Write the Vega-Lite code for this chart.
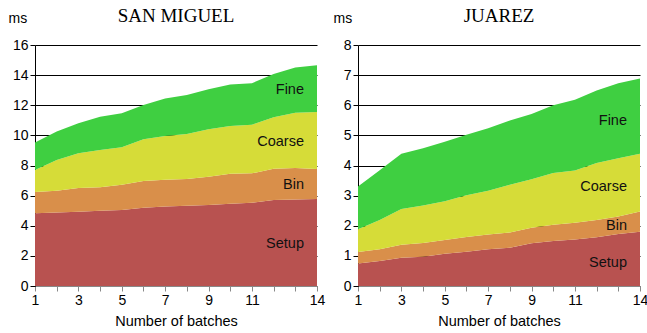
{
  "$schema": "https://vega.github.io/schema/vega-lite/v6.json",
  "padding": {"left": 8, "top": 7, "right": 0, "bottom": 0},
  "background": "white",
  "bounds": "flush",
  "spacing": 41,
  "config": {
    "view": {"stroke": null},
    "font": "Liberation Sans",
    "title": {"font": "Liberation Serif", "fontSize": 19, "fontWeight": "normal", "color": "#000", "baseline": "alphabetic", "offset": -15, "frame": "group"},
    "axis": {"labelFont": "Liberation Sans", "titleFont": "Liberation Sans", "labelFontSize": 14, "titleFontSize": 14, "titleFontWeight": "normal", "labelColor": "#000", "titleColor": "#000", "labelOverlap": false}
  },
  "datasets": {
    "times": [
      {"city": "San Miguel", "batch": 1, "stage": "Setup", "k": 1, "ms": 4.83},
      {"city": "San Miguel", "batch": 1, "stage": "Bin", "k": 2, "ms": 1.41},
      {"city": "San Miguel", "batch": 1, "stage": "Coarse", "k": 3, "ms": 1.46},
      {"city": "San Miguel", "batch": 1, "stage": "Fine", "k": 4, "ms": 1.82},
      {"city": "San Miguel", "batch": 2, "stage": "Setup", "k": 1, "ms": 4.88},
      {"city": "San Miguel", "batch": 2, "stage": "Bin", "k": 2, "ms": 1.45},
      {"city": "San Miguel", "batch": 2, "stage": "Coarse", "k": 3, "ms": 2.04},
      {"city": "San Miguel", "batch": 2, "stage": "Fine", "k": 4, "ms": 1.88},
      {"city": "San Miguel", "batch": 3, "stage": "Setup", "k": 1, "ms": 4.93},
      {"city": "San Miguel", "batch": 3, "stage": "Bin", "k": 2, "ms": 1.57},
      {"city": "San Miguel", "batch": 3, "stage": "Coarse", "k": 3, "ms": 2.31},
      {"city": "San Miguel", "batch": 3, "stage": "Fine", "k": 4, "ms": 1.99},
      {"city": "San Miguel", "batch": 4, "stage": "Setup", "k": 1, "ms": 4.99},
      {"city": "San Miguel", "batch": 4, "stage": "Bin", "k": 2, "ms": 1.56},
      {"city": "San Miguel", "batch": 4, "stage": "Coarse", "k": 3, "ms": 2.48},
      {"city": "San Miguel", "batch": 4, "stage": "Fine", "k": 4, "ms": 2.21},
      {"city": "San Miguel", "batch": 5, "stage": "Setup", "k": 1, "ms": 5.05},
      {"city": "San Miguel", "batch": 5, "stage": "Bin", "k": 2, "ms": 1.68},
      {"city": "San Miguel", "batch": 5, "stage": "Coarse", "k": 3, "ms": 2.48},
      {"city": "San Miguel", "batch": 5, "stage": "Fine", "k": 4, "ms": 2.26},
      {"city": "San Miguel", "batch": 6, "stage": "Setup", "k": 1, "ms": 5.20},
      {"city": "San Miguel", "batch": 6, "stage": "Bin", "k": 2, "ms": 1.77},
      {"city": "San Miguel", "batch": 6, "stage": "Coarse", "k": 3, "ms": 2.77},
      {"city": "San Miguel", "batch": 6, "stage": "Fine", "k": 4, "ms": 2.28},
      {"city": "San Miguel", "batch": 7, "stage": "Setup", "k": 1, "ms": 5.27},
      {"city": "San Miguel", "batch": 7, "stage": "Bin", "k": 2, "ms": 1.79},
      {"city": "San Miguel", "batch": 7, "stage": "Coarse", "k": 3, "ms": 2.90},
      {"city": "San Miguel", "batch": 7, "stage": "Fine", "k": 4, "ms": 2.48},
      {"city": "San Miguel", "batch": 8, "stage": "Setup", "k": 1, "ms": 5.32},
      {"city": "San Miguel", "batch": 8, "stage": "Bin", "k": 2, "ms": 1.78},
      {"city": "San Miguel", "batch": 8, "stage": "Coarse", "k": 3, "ms": 2.99},
      {"city": "San Miguel", "batch": 8, "stage": "Fine", "k": 4, "ms": 2.59},
      {"city": "San Miguel", "batch": 9, "stage": "Setup", "k": 1, "ms": 5.38},
      {"city": "San Miguel", "batch": 9, "stage": "Bin", "k": 2, "ms": 1.88},
      {"city": "San Miguel", "batch": 9, "stage": "Coarse", "k": 3, "ms": 3.14},
      {"city": "San Miguel", "batch": 9, "stage": "Fine", "k": 4, "ms": 2.66},
      {"city": "San Miguel", "batch": 10, "stage": "Setup", "k": 1, "ms": 5.46},
      {"city": "San Miguel", "batch": 10, "stage": "Bin", "k": 2, "ms": 2.00},
      {"city": "San Miguel", "batch": 10, "stage": "Coarse", "k": 3, "ms": 3.16},
      {"city": "San Miguel", "batch": 10, "stage": "Fine", "k": 4, "ms": 2.75},
      {"city": "San Miguel", "batch": 11, "stage": "Setup", "k": 1, "ms": 5.53},
      {"city": "San Miguel", "batch": 11, "stage": "Bin", "k": 2, "ms": 1.95},
      {"city": "San Miguel", "batch": 11, "stage": "Coarse", "k": 3, "ms": 3.23},
      {"city": "San Miguel", "batch": 11, "stage": "Fine", "k": 4, "ms": 2.75},
      {"city": "San Miguel", "batch": 12, "stage": "Setup", "k": 1, "ms": 5.71},
      {"city": "San Miguel", "batch": 12, "stage": "Bin", "k": 2, "ms": 2.08},
      {"city": "San Miguel", "batch": 12, "stage": "Coarse", "k": 3, "ms": 3.41},
      {"city": "San Miguel", "batch": 12, "stage": "Fine", "k": 4, "ms": 2.88},
      {"city": "San Miguel", "batch": 13, "stage": "Setup", "k": 1, "ms": 5.74},
      {"city": "San Miguel", "batch": 13, "stage": "Bin", "k": 2, "ms": 2.09},
      {"city": "San Miguel", "batch": 13, "stage": "Coarse", "k": 3, "ms": 3.68},
      {"city": "San Miguel", "batch": 13, "stage": "Fine", "k": 4, "ms": 2.99},
      {"city": "San Miguel", "batch": 14, "stage": "Setup", "k": 1, "ms": 5.78},
      {"city": "San Miguel", "batch": 14, "stage": "Bin", "k": 2, "ms": 1.99},
      {"city": "San Miguel", "batch": 14, "stage": "Coarse", "k": 3, "ms": 3.78},
      {"city": "San Miguel", "batch": 14, "stage": "Fine", "k": 4, "ms": 3.10},
      {"city": "Juarez", "batch": 1, "stage": "Setup", "k": 1, "ms": 0.75},
      {"city": "Juarez", "batch": 1, "stage": "Bin", "k": 2, "ms": 0.38},
      {"city": "Juarez", "batch": 1, "stage": "Coarse", "k": 3, "ms": 0.75},
      {"city": "Juarez", "batch": 1, "stage": "Fine", "k": 4, "ms": 1.42},
      {"city": "Juarez", "batch": 2, "stage": "Setup", "k": 1, "ms": 0.83},
      {"city": "Juarez", "batch": 2, "stage": "Bin", "k": 2, "ms": 0.39},
      {"city": "Juarez", "batch": 2, "stage": "Coarse", "k": 3, "ms": 0.97},
      {"city": "Juarez", "batch": 2, "stage": "Fine", "k": 4, "ms": 1.65},
      {"city": "Juarez", "batch": 3, "stage": "Setup", "k": 1, "ms": 0.94},
      {"city": "Juarez", "batch": 3, "stage": "Bin", "k": 2, "ms": 0.43},
      {"city": "Juarez", "batch": 3, "stage": "Coarse", "k": 3, "ms": 1.19},
      {"city": "Juarez", "batch": 3, "stage": "Fine", "k": 4, "ms": 1.83},
      {"city": "Juarez", "batch": 4, "stage": "Setup", "k": 1, "ms": 0.97},
      {"city": "Juarez", "batch": 4, "stage": "Bin", "k": 2, "ms": 0.46},
      {"city": "Juarez", "batch": 4, "stage": "Coarse", "k": 3, "ms": 1.24},
      {"city": "Juarez", "batch": 4, "stage": "Fine", "k": 4, "ms": 1.90},
      {"city": "Juarez", "batch": 5, "stage": "Setup", "k": 1, "ms": 1.07},
      {"city": "Juarez", "batch": 5, "stage": "Bin", "k": 2, "ms": 0.46},
      {"city": "Juarez", "batch": 5, "stage": "Coarse", "k": 3, "ms": 1.28},
      {"city": "Juarez", "batch": 5, "stage": "Fine", "k": 4, "ms": 1.98},
      {"city": "Juarez", "batch": 6, "stage": "Setup", "k": 1, "ms": 1.14},
      {"city": "Juarez", "batch": 6, "stage": "Bin", "k": 2, "ms": 0.49},
      {"city": "Juarez", "batch": 6, "stage": "Coarse", "k": 3, "ms": 1.38},
      {"city": "Juarez", "batch": 6, "stage": "Fine", "k": 4, "ms": 2.01},
      {"city": "Juarez", "batch": 7, "stage": "Setup", "k": 1, "ms": 1.22},
      {"city": "Juarez", "batch": 7, "stage": "Bin", "k": 2, "ms": 0.49},
      {"city": "Juarez", "batch": 7, "stage": "Coarse", "k": 3, "ms": 1.45},
      {"city": "Juarez", "batch": 7, "stage": "Fine", "k": 4, "ms": 2.08},
      {"city": "Juarez", "batch": 8, "stage": "Setup", "k": 1, "ms": 1.27},
      {"city": "Juarez", "batch": 8, "stage": "Bin", "k": 2, "ms": 0.51},
      {"city": "Juarez", "batch": 8, "stage": "Coarse", "k": 3, "ms": 1.58},
      {"city": "Juarez", "batch": 8, "stage": "Fine", "k": 4, "ms": 2.13},
      {"city": "Juarez", "batch": 9, "stage": "Setup", "k": 1, "ms": 1.42},
      {"city": "Juarez", "batch": 9, "stage": "Bin", "k": 2, "ms": 0.51},
      {"city": "Juarez", "batch": 9, "stage": "Coarse", "k": 3, "ms": 1.61},
      {"city": "Juarez", "batch": 9, "stage": "Fine", "k": 4, "ms": 2.17},
      {"city": "Juarez", "batch": 10, "stage": "Setup", "k": 1, "ms": 1.49},
      {"city": "Juarez", "batch": 10, "stage": "Bin", "k": 2, "ms": 0.54},
      {"city": "Juarez", "batch": 10, "stage": "Coarse", "k": 3, "ms": 1.72},
      {"city": "Juarez", "batch": 10, "stage": "Fine", "k": 4, "ms": 2.25},
      {"city": "Juarez", "batch": 11, "stage": "Setup", "k": 1, "ms": 1.54},
      {"city": "Juarez", "batch": 11, "stage": "Bin", "k": 2, "ms": 0.56},
      {"city": "Juarez", "batch": 11, "stage": "Coarse", "k": 3, "ms": 1.73},
      {"city": "Juarez", "batch": 11, "stage": "Fine", "k": 4, "ms": 2.35},
      {"city": "Juarez", "batch": 12, "stage": "Setup", "k": 1, "ms": 1.62},
      {"city": "Juarez", "batch": 12, "stage": "Bin", "k": 2, "ms": 0.57},
      {"city": "Juarez", "batch": 12, "stage": "Coarse", "k": 3, "ms": 1.89},
      {"city": "Juarez", "batch": 12, "stage": "Fine", "k": 4, "ms": 2.41},
      {"city": "Juarez", "batch": 13, "stage": "Setup", "k": 1, "ms": 1.73},
      {"city": "Juarez", "batch": 13, "stage": "Bin", "k": 2, "ms": 0.58},
      {"city": "Juarez", "batch": 13, "stage": "Coarse", "k": 3, "ms": 1.93},
      {"city": "Juarez", "batch": 13, "stage": "Fine", "k": 4, "ms": 2.49},
      {"city": "Juarez", "batch": 14, "stage": "Setup", "k": 1, "ms": 1.80},
      {"city": "Juarez", "batch": 14, "stage": "Bin", "k": 2, "ms": 0.67},
      {"city": "Juarez", "batch": 14, "stage": "Coarse", "k": 3, "ms": 1.92},
      {"city": "Juarez", "batch": 14, "stage": "Fine", "k": 4, "ms": 2.50}
    ]
  },
  "hconcat": [
    {
      "title": "SAN MIGUEL",
      "width": 282,
      "height": 241,
      "data": {"name": "times"},
      "transform": [{"filter": "datum.city === 'San Miguel'"}],
      "encoding": {
        "x": {"field": "batch", "type": "quantitative", "scale": {"domain": [1, 14], "nice": false},
          "axis": {"title": "Number of batches", "titleFontSize": 14.5, "values": [1,2,3,4,5,6,7,8,9,10,11,12,13,14],
            "labelExpr": "((datum.value % 2 === 1 && datum.value !== 13) || datum.value === 14) ? datum.label : ''",
            "grid": false, "domainColor": "#888", "tickColor": "#888", "tickSize": 5, "labelPadding": 2, "titlePadding": 7, "labelFlush": false}}
      },
      "layer": [
        {
          "mark": {"type": "area", "interpolate": "linear"},
          "encoding": {
            "y": {"field": "ms", "type": "quantitative", "stack": "zero", "scale": {"domain": [0, 16], "nice": false},
              "axis": {"title": "ms", "values": [0,2,4,6,8,10,12,14,16], "grid": true, "gridColor": "#000", "gridWidth": 1,
                "domainColor": "#000", "tickColor": "#000", "tickSize": 5, "labelPadding": 2,
                "titleAngle": 0, "titleAlign": "left", "titleBaseline": "middle", "titleX": -27, "titleY": -27}},
            "color": {"field": "stage", "type": "nominal", "legend": null,
              "scale": {"domain": ["Setup", "Bin", "Coarse", "Fine"], "range": ["#B85250", "#D98F4A", "#D6DC38", "#3FCF41"]}},
            "order": {"field": "k", "type": "quantitative", "sort": "ascending"}
          }
        },
        {
          "transform": [
            {"filter": "datum.batch === 14"},
            {"stack": "ms", "groupby": ["batch"], "sort": [{"field": "k", "order": "ascending"}], "as": ["y0", "y1"]},
            {"calculate": "(datum.y0 + datum.y1) / 2 - 0.1", "as": "mid"}
          ],
          "mark": {"type": "text", "align": "right", "baseline": "middle", "dx": -13, "fontSize": 14.5, "color": "#111"},
          "encoding": {
            "y": {"field": "mid", "type": "quantitative",
              "axis": {"title": "ms", "values": [0,2,4,6,8,10,12,14,16], "grid": true, "gridColor": "#000", "gridWidth": 1,
                "domainColor": "#000", "tickColor": "#000", "tickSize": 5, "labelPadding": 2,
                "titleAngle": 0, "titleAlign": "left", "titleBaseline": "middle", "titleX": -27, "titleY": -27}},
            "text": {"field": "stage"}
          }
        }
      ]
    },
    {
      "title": "JUAREZ",
      "width": 282,
      "height": 241,
      "data": {"name": "times"},
      "transform": [{"filter": "datum.city === 'Juarez'"}],
      "encoding": {
        "x": {"field": "batch", "type": "quantitative", "scale": {"domain": [1, 14], "nice": false},
          "axis": {"title": "Number of batches", "titleFontSize": 14.5, "values": [1,2,3,4,5,6,7,8,9,10,11,12,13,14],
            "labelExpr": "((datum.value % 2 === 1 && datum.value !== 13) || datum.value === 14) ? datum.label : ''",
            "grid": false, "domainColor": "#888", "tickColor": "#888", "tickSize": 5, "labelPadding": 2, "titlePadding": 7, "labelFlush": false}}
      },
      "layer": [
        {
          "mark": {"type": "area", "interpolate": "linear"},
          "encoding": {
            "y": {"field": "ms", "type": "quantitative", "stack": "zero", "scale": {"domain": [0, 8], "nice": false},
              "axis": {"title": "ms", "values": [0,1,2,3,4,5,6,7,8], "grid": true, "gridColor": "#000", "gridWidth": 1,
                "domainColor": "#000", "tickColor": "#000", "tickSize": 5, "labelPadding": 2,
                "titleAngle": 0, "titleAlign": "left", "titleBaseline": "middle", "titleX": -25, "titleY": -27}},
            "color": {"field": "stage", "type": "nominal", "legend": null,
              "scale": {"domain": ["Setup", "Bin", "Coarse", "Fine"], "range": ["#B85250", "#D98F4A", "#D6DC38", "#3FCF41"]}},
            "order": {"field": "k", "type": "quantitative", "sort": "ascending"}
          }
        },
        {
          "transform": [
            {"filter": "datum.batch === 14"},
            {"stack": "ms", "groupby": ["batch"], "sort": [{"field": "k", "order": "ascending"}], "as": ["y0", "y1"]},
            {"calculate": "(datum.y0 + datum.y1) / 2 - 0.15", "as": "mid"}
          ],
          "mark": {"type": "text", "align": "right", "baseline": "middle", "dx": -13, "fontSize": 14.5, "color": "#111"},
          "encoding": {
            "y": {"field": "mid", "type": "quantitative",
              "axis": {"title": "ms", "values": [0,1,2,3,4,5,6,7,8], "grid": true, "gridColor": "#000", "gridWidth": 1,
                "domainColor": "#000", "tickColor": "#000", "tickSize": 5, "labelPadding": 2,
                "titleAngle": 0, "titleAlign": "left", "titleBaseline": "middle", "titleX": -25, "titleY": -27}},
            "text": {"field": "stage"}
          }
        }
      ]
    }
  ],
  "resolve": {"scale": {"color": "shared"}}
}
